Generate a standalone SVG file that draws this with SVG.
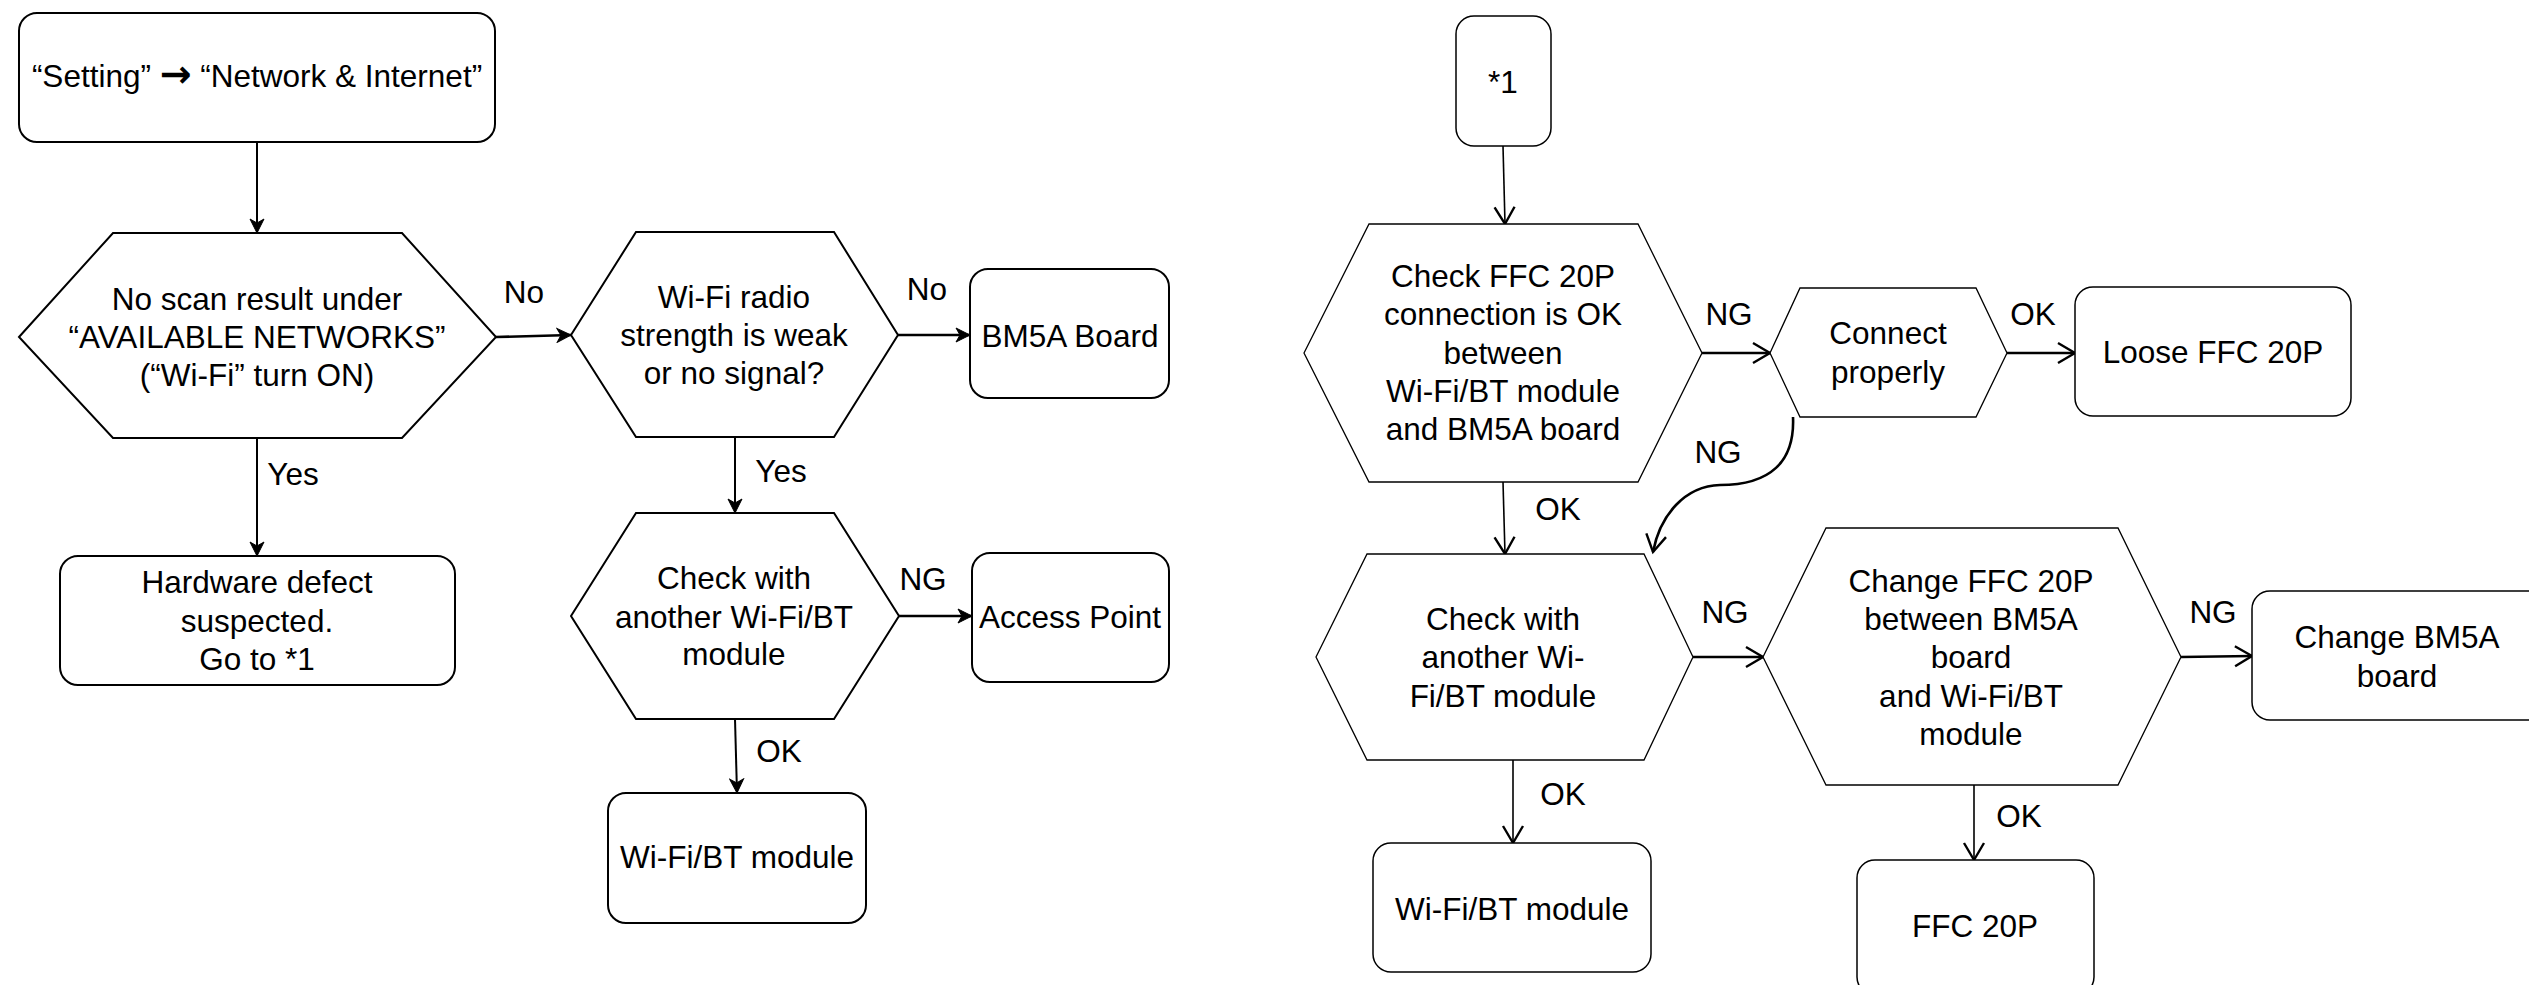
<svg xmlns="http://www.w3.org/2000/svg" width="2529" height="985" viewBox="0 0 2529 985">
<style>
.bg{fill:#fff}
.box{fill:#fff;stroke:#000;stroke-width:2}
.hexL{fill:#fff;stroke:#000;stroke-width:2}
.hexR{fill:#fff;stroke:#000;stroke-width:1.3}
text{font-family:"Liberation Sans",Arial,sans-serif;font-size:31.5px;fill:#000;text-anchor:middle}
.arr{font-family:"Noto Sans","DejaVu Sans",sans-serif;font-weight:bold;font-size:38px}
.cl{fill:none;stroke:#000;stroke-width:2;marker-end:url(#cls)}
.clh{fill:none;stroke:#000;stroke-width:2.6;marker-end:url(#cls)}
.op{fill:none;stroke:#000;stroke-width:1.6;marker-end:url(#opn)}
.oph{fill:none;stroke:#000;stroke-width:2.6;marker-end:url(#opn)}
</style>
<defs>
<marker id="cls" markerWidth="17" markerHeight="16" refX="15" refY="8" orient="auto" markerUnits="userSpaceOnUse">
<path d="M1,1 L15,8 L1,15 L5,8 Z" fill="#000" stroke="#000" stroke-width="1"/>
</marker>
<marker id="opn" markerWidth="22" markerHeight="26" refX="19" refY="13" orient="auto" markerUnits="userSpaceOnUse">
<path d="M2,3 L19,13 L2,23" fill="none" stroke="#000" stroke-width="2.4"/>
</marker>
</defs>
<rect class="bg" x="0" y="0" width="2529" height="985"/>

<g id="connectors">
<path class="cl" d="M257,142 L257,233"/>
<path class="clh" d="M496,337 L571,335"/>
<path class="clh" d="M898,335 L970,335"/>
<path class="cl" d="M257,438 L257,556"/>
<path class="cl" d="M735,437 L735,513"/>
<path class="clh" d="M899,616 L972,616"/>
<path class="cl" d="M735,719 L737,793"/>
<path class="op" d="M1503,146 L1505,224"/>
<path class="oph" d="M1702,353 L1770,353"/>
<path class="oph" d="M2007,353 L2075,353"/>
<path class="oph" d="M1793,417 C1795,462 1770,485 1720,485 C1685,486 1660,515 1653,552"/>
<path class="op" d="M1503,482 L1505,554"/>
<path class="oph" d="M1693,657 L1763,657"/>
<path class="oph" d="M2181,657 L2252,656"/>
<path class="op" d="M1513,760 L1513,843"/>
<path class="op" d="M1974,785 L1974,860"/>
</g>

<g id="labels">
<text x="524" y="303">No</text>
<text x="927" y="300">No</text>
<text x="293" y="485">Yes</text>
<text x="781" y="482">Yes</text>
<text x="923" y="590">NG</text>
<text x="779" y="762">OK</text>
<text x="1729" y="325">NG</text>
<text x="2033" y="325">OK</text>
<text x="1718" y="463">NG</text>
<text x="1558" y="520">OK</text>
<text x="1725" y="623">NG</text>
<text x="2213" y="623">NG</text>
<text x="1563" y="805">OK</text>
<text x="2019" y="827">OK</text>
</g>

<g id="n-setting">
<rect class="box" x="19" y="13" width="476" height="129" rx="18"/>
<text x="257" y="87">“Setting” <tspan class="arr">→</tspan> “Network &amp; Internet”</text>
</g>

<g id="n-noscan">
<polygon class="hexL" points="19,337 113,233 402,233 496,337 402,438 113,438"/>
<text x="257" y="310">No scan result under</text>
<text x="257" y="348">“AVAILABLE NETWORKS”</text>
<text x="257" y="386">(“Wi-Fi” turn ON)</text>
</g>

<g id="n-radio">
<polygon class="hexL" points="571,335 636,232 834,232 898,335 834,437 636,437"/>
<text x="734" y="308">Wi-Fi radio</text>
<text x="734" y="346">strength is weak</text>
<text x="734" y="384">or no signal?</text>
</g>

<g id="n-bm5a">
<rect class="box" x="970" y="269" width="199" height="129" rx="18"/>
<text x="1070" y="347">BM5A Board</text>
</g>

<g id="n-hardware">
<rect class="box" x="60" y="556" width="395" height="129" rx="18"/>
<text x="257" y="593">Hardware defect</text>
<text x="257" y="632">suspected.</text>
<text x="257" y="670">Go to *1</text>
</g>

<g id="n-check1">
<polygon class="hexL" points="571,616 636,513 834,513 899,616 834,719 636,719"/>
<text x="734" y="589">Check with</text>
<text x="734" y="628">another Wi-Fi/BT</text>
<text x="734" y="665">module</text>
</g>

<g id="n-ap">
<rect class="box" x="972" y="553" width="197" height="129" rx="18"/>
<text x="1070" y="628">Access Point</text>
</g>

<g id="n-module1">
<rect class="box" x="608" y="793" width="258" height="130" rx="18"/>
<text x="737" y="868">Wi-Fi/BT module</text>
</g>

<g id="n-star1">
<rect class="box" x="1456" y="16" width="95" height="130" rx="18" style="stroke-width:1.5"/>
<text x="1503" y="93">*1</text>
</g>

<g id="n-checkffc">
<polygon class="hexR" points="1304,353 1369,224 1638,224 1702,353 1638,482 1369,482"/>
<text x="1503" y="287">Check FFC 20P</text>
<text x="1503" y="325">connection is OK</text>
<text x="1503" y="364">between</text>
<text x="1503" y="402">Wi-Fi/BT module</text>
<text x="1503" y="440">and BM5A board</text>
</g>

<g id="n-connect">
<polygon class="hexR" points="1770,353 1800,288 1976,288 2007,353 1976,417 1800,417"/>
<text x="1888" y="344">Connect</text>
<text x="1888" y="383">properly</text>
</g>

<g id="n-loose">
<rect class="box" x="2075" y="287" width="276" height="129" rx="18" style="stroke-width:1.5"/>
<text x="2213" y="363">Loose FFC 20P</text>
</g>

<g id="n-check2">
<polygon class="hexR" points="1316,657 1367,554 1644,554 1693,657 1644,760 1367,760"/>
<text x="1503" y="630">Check with</text>
<text x="1503" y="668">another Wi-</text>
<text x="1503" y="707">Fi/BT module</text>
</g>

<g id="n-changeffc">
<polygon class="hexR" points="1763,657 1826,528 2118,528 2181,657 2118,785 1826,785"/>
<text x="1971" y="592">Change FFC 20P</text>
<text x="1971" y="630">between BM5A</text>
<text x="1971" y="668">board</text>
<text x="1971" y="707">and Wi-Fi/BT</text>
<text x="1971" y="745">module</text>
</g>

<g id="n-changebm5a">
<rect class="box" x="2252" y="591" width="300" height="129" rx="18" style="stroke-width:1.5"/>
<text x="2397" y="648">Change BM5A</text>
<text x="2397" y="687">board</text>
</g>

<g id="n-module2">
<rect class="box" x="1373" y="843" width="278" height="129" rx="18" style="stroke-width:1.5"/>
<text x="1512" y="920">Wi-Fi/BT module</text>
</g>

<g id="n-ffc">
<rect class="box" x="1857" y="860" width="237" height="135" rx="18" style="stroke-width:1.5"/>
<text x="1975" y="937">FFC 20P</text>
</g>
</svg>
